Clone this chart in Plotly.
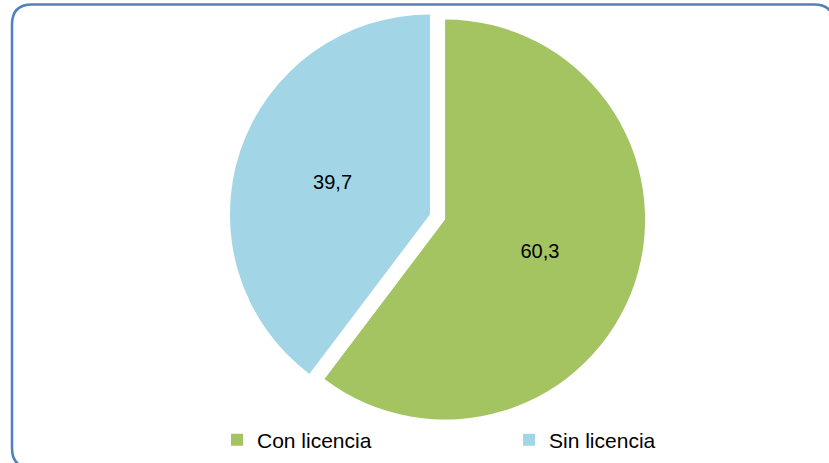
import plotly.graph_objects as go

categories = ["Con licencia", "Sin licencia"]
values = [60.3, 39.7]
value_labels = ["60,3", "39,7"]
colors = ["#a4c462", "#a2d6e6"]

W, H = 829, 463

fig = go.Figure(go.Pie(
    labels=categories,
    values=values,
    text=value_labels,
    textinfo="text",
    textposition="inside",
    insidetextorientation="horizontal",
    textfont=dict(family="Liberation Sans, Arial", size=20, color="black"),
    marker=dict(colors=colors, line=dict(width=0)),
    pull=[0.04, 0.04],
    sort=False,
    direction="clockwise",
    rotation=0,
    hoverinfo="label+value",
    domain=dict(x=[229.5 / W, 645.5 / W], y=[1 - 425 / H, 1 - 9 / H]),
))

# rounded border frame (decoration); right and bottom edges fall outside the view
x0, y0, x1, y1, r = 12, 4.5, 834, 468, 20
def px(x):
    return x / W
def py(y):
    return 1 - y / H
path = (f"M {px(x0 + r + 40)},{py(y1)} "
        f"L {px(x0 + r)},{py(y1)} "
        f"Q {px(x0)},{py(y1)} {px(x0)},{py(y1 - r)} "
        f"L {px(x0)},{py(y0 + r)} "
        f"Q {px(x0)},{py(y0)} {px(x0 + r)},{py(y0)} "
        f"L {px(x1 - r)},{py(y0)} "
        f"Q {px(x1)},{py(y0)} {px(x1)},{py(y0 + r)}")

fig.update_layout(
    width=W, height=H,
    margin=dict(l=0, r=0, t=0, b=0),
    paper_bgcolor="white",
    plot_bgcolor="white",
    showlegend=True,
    legend=dict(
        orientation="h",
        x=217 / W, xanchor="left",
        y=1 - 440 / H, yanchor="middle",
        font=dict(family="Liberation Sans, Arial", size=21, color="black"),
        entrywidth=247, entrywidthmode="pixels",
        itemwidth=30,
        bgcolor="rgba(0,0,0,0)",
    ),
    shapes=[dict(type="path", path=path, xref="paper", yref="paper",
                 line=dict(color="#4f81bd", width=2.5), layer="above")],
)

fig.write_html(
    "out.html",
    config={"displayModeBar": False},
    post_script="document.body.style.margin='0';document.body.style.overflow='hidden';",
)
